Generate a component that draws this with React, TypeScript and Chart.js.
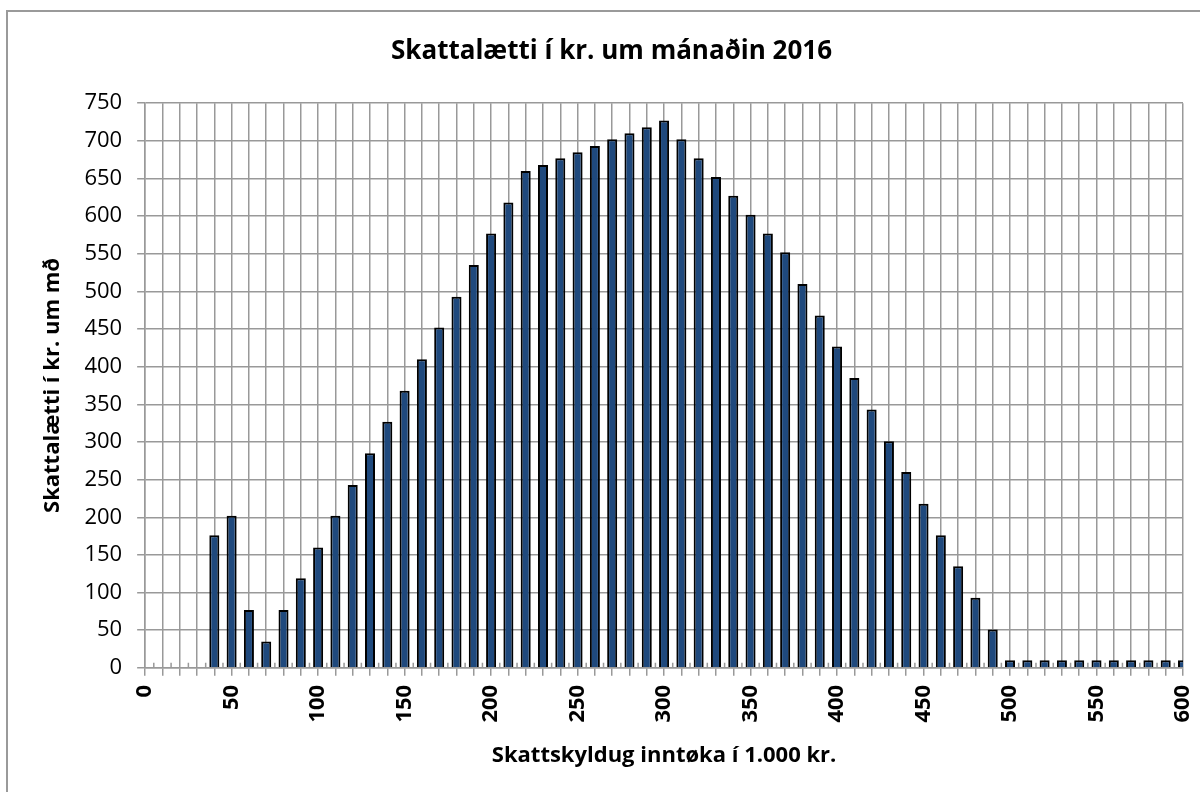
import React, { useEffect, useRef } from "react";
import { Chart, registerables } from "chart.js";

Chart.register(...registerables);

const incomes: number[] = [
  0, 10, 20, 30, 40, 50, 60, 70, 80, 90,
  100, 110, 120, 130, 140, 150, 160, 170, 180, 190,
  200, 210, 220, 230, 240, 250, 260, 270, 280, 290,
  300, 310, 320, 330, 340, 350, 360, 370, 380, 390,
  400, 410, 420, 430, 440, 450, 460, 470, 480, 490,
  500, 510, 520, 530, 540, 550, 560, 570, 580, 590, 600,
];

const taxRelief: (number | null)[] = [
  null, null, null, null, 176, 202, 77, 35, 77, 119,
  160, 202, 243, 285, 327, 368, 410, 452, 493, 535,
  577, 618, 660, 668, 677, 685, 693, 702, 710, 718,
  727, 702, 677, 652, 627, 602, 577, 552, 510, 468,
  427, 385, 343, 301, 260, 218, 176, 135, 93, 51,
  10, 10, 10, 10, 10, 10, 10, 10, 10, 10, 10,
];

const titleText = "Skattalætti í kr. um mánaðin 2016";
const xTitle = "Skattskyldug inntøka í 1.000 kr.";
const yTitle = "Skattalætti í kr. um mð";

const GRID = "#999999";
const FONT = "'Open Sans', sans-serif";

const framePlugin = {
  id: "frame",
  beforeDraw(chart: any) {
    const ctx = chart.ctx;
    ctx.save();
    ctx.fillStyle = "#ffffff";
    ctx.fillRect(0, 0, chart.width, chart.height);
    ctx.strokeStyle = "#9a9a9a";
    ctx.lineWidth = 2;
    ctx.beginPath();
    ctx.moveTo(7, chart.height);
    ctx.lineTo(7, 11);
    ctx.lineTo(chart.width, 11);
    ctx.stroke();
    ctx.restore();
  },
};

const minorTickPlugin = {
  id: "minorTicks",
  afterDatasetsDraw(chart: any) {
    const ctx = chart.ctx;
    const xs = chart.scales.x;
    const bottom = chart.chartArea.bottom;
    ctx.save();
    ctx.strokeStyle = GRID;
    ctx.lineWidth = 1.5;
    ctx.beginPath();
    for (let i = 0; i < incomes.length - 1; i++) {
      const a = xs.getPixelForValue(i);
      const b = xs.getPixelForValue(i + 1);
      const m = (a + b) / 2;
      ctx.moveTo(m, bottom);
      ctx.lineTo(m, bottom - 5);
    }
    ctx.stroke();
    ctx.restore();
  },
};

export default function App() {
  const ref = useRef<HTMLCanvasElement | null>(null);
  useEffect(() => {
    if (!ref.current) return;
    const chart = new Chart(ref.current, {
      type: "bar",
      data: {
        labels: incomes.map(String),
        datasets: [
          {
            data: taxRelief,
            backgroundColor: "#1f497d",
            borderColor: "#000000",
            borderWidth: 2,
            barPercentage: 0.58,
            categoryPercentage: 1,
          },
        ],
      },
      options: {
        animation: false,
        responsive: true,
        maintainAspectRatio: false,
        layout: { padding: { left: 40, right: 17, top: 0, bottom: 23 } },
        plugins: {
          legend: { display: false },
          tooltip: { enabled: false },
          title: {
            display: true,
            text: titleText,
            color: "#000",
            font: { family: FONT, size: 26, weight: "bold" },
            padding: { top: 36, bottom: 36 },
          },
        },
        scales: {
          x: {
            offset: false,
            afterFit: (scale: any) => {
              scale.paddingLeft = 0;
              scale.paddingRight = 0;
            },
            grid: { color: GRID, lineWidth: 1.5, offset: false, tickLength: 8 },
            border: { color: GRID, width: 1.5 },
            ticks: {
              autoSkip: false,
              maxRotation: 90,
              minRotation: 90,
              color: "#000",
              padding: 9,
              font: { family: FONT, size: 22, weight: "bold" },
              callback: (_v: any, i: number) => (incomes[i] % 50 === 0 ? String(incomes[i]) : ""),
            },
            title: {
              display: true,
              text: xTitle,
              color: "#000",
              font: { family: FONT, size: 22, weight: "bold" },
              padding: { top: 11, bottom: 0 },
            },
          },
          y: {
            min: 0,
            max: 750,
            grid: { color: GRID, lineWidth: 1.5, tickLength: 8 },
            border: { color: GRID, width: 1.5 },
            ticks: {
              stepSize: 50,
              color: "#000",
              padding: 15,
              font: { family: FONT, size: 22 },
            },
            title: {
              display: true,
              text: yTitle,
              color: "#000",
              font: { family: FONT, size: 22, weight: "bold" },
              padding: { top: 0, bottom: 3 },
            },
          },
        },
      },
      plugins: [framePlugin, minorTickPlugin],
    });
    return () => chart.destroy();
  }, []);
  return (
    <div style={{ position: "fixed", left: 0, top: 0, width: 1200, height: 792 }}>
      <canvas ref={ref} />
    </div>
  );
}
